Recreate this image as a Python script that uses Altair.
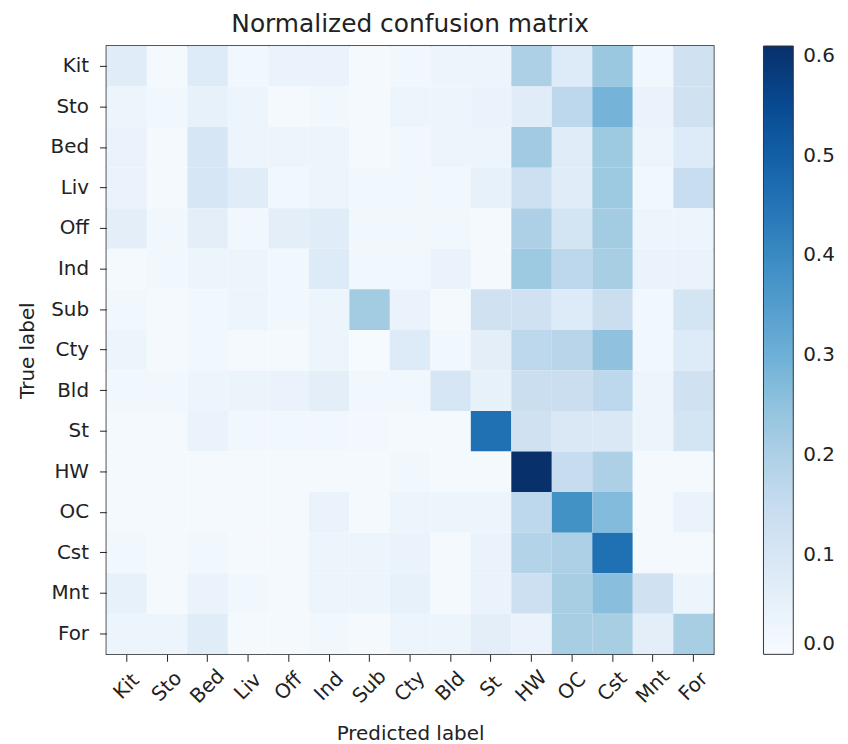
import altair as alt
import pandas as pd

classes = ["Kit", "Sto", "Bed", "Liv", "Off", "Ind", "Sub", "Cty", "Bld", "St", "HW", "OC", "Cst", "Mnt", "For"]

row_kit = [0.07, 0.01, 0.08, 0.02, 0.04, 0.04, 0.01, 0.02, 0.03, 0.03, 0.20, 0.08, 0.235, 0.02, 0.12]
row_sto = [0.03, 0.02, 0.05, 0.03, 0.01, 0.02, 0.01, 0.03, 0.03, 0.04, 0.07, 0.17, 0.29, 0.04, 0.12]
row_bed = [0.04, 0.01, 0.10, 0.03, 0.03, 0.03, 0.01, 0.02, 0.03, 0.03, 0.225, 0.07, 0.23, 0.03, 0.08]
row_liv = [0.04, 0.01, 0.10, 0.07, 0.02, 0.03, 0.02, 0.02, 0.02, 0.05, 0.13, 0.07, 0.23, 0.02, 0.145]
row_off = [0.06, 0.02, 0.06, 0.02, 0.06, 0.07, 0.02, 0.02, 0.02, 0.01, 0.20, 0.11, 0.22, 0.03, 0.03]
row_ind = [0.01, 0.02, 0.03, 0.03, 0.02, 0.08, 0.02, 0.02, 0.04, 0.01, 0.23, 0.17, 0.21, 0.04, 0.04]
row_sub = [0.02, 0.01, 0.02, 0.03, 0.02, 0.03, 0.22, 0.04, 0.01, 0.12, 0.12, 0.08, 0.14, 0.02, 0.11]
row_cty = [0.03, 0.01, 0.02, 0.01, 0.01, 0.03, 0.005, 0.08, 0.02, 0.06, 0.17, 0.18, 0.25, 0.02, 0.08]
row_bld = [0.02, 0.02, 0.03, 0.035, 0.04, 0.06, 0.02, 0.02, 0.10, 0.05, 0.14, 0.14, 0.17, 0.03, 0.12]
row_st = [0.01, 0.01, 0.04, 0.02, 0.02, 0.02, 0.015, 0.01, 0.01, 0.46, 0.12, 0.09, 0.09, 0.03, 0.11]
row_hw = [0.01, 0.01, 0.01, 0.01, 0.01, 0.01, 0.01, 0.02, 0.01, 0.01, 0.61, 0.15, 0.20, 0.01, 0.01]
row_oc = [0.01, 0.01, 0.01, 0.01, 0.01, 0.04, 0.01, 0.03, 0.03, 0.03, 0.17, 0.38, 0.27, 0.01, 0.04]
row_cst = [0.02, 0.01, 0.02, 0.01, 0.01, 0.03, 0.03, 0.04, 0.01, 0.04, 0.19, 0.20, 0.46, 0.01, 0.01]
row_mnt = [0.05, 0.01, 0.04, 0.02, 0.01, 0.03, 0.03, 0.05, 0.01, 0.04, 0.13, 0.21, 0.26, 0.12, 0.03]
row_for = [0.03, 0.03, 0.07, 0.01, 0.01, 0.02, 0.01, 0.03, 0.03, 0.06, 0.04, 0.21, 0.21, 0.06, 0.21]

rows = [row_kit, row_sto, row_bed, row_liv, row_off, row_ind, row_sub, row_cty,
        row_bld, row_st, row_hw, row_oc, row_cst, row_mnt, row_for]

blues = ["#f7fbff", "#deebf7", "#c6dbef", "#9ecae1", "#6baed6",
         "#4292c6", "#2171b5", "#08519c", "#08306b"]
vmax = 0.61
legend_ticks = [0.0, 0.1, 0.2, 0.3, 0.4, 0.5, 0.6]

records = []
for t, r in zip(classes, rows):
    for p, v in zip(classes, r):
        records.append({"true": t, "pred": p, "value": v})
df = pd.DataFrame(records)

stops = [vmax * i / (len(blues) - 1) for i in range(len(blues))]

font = "DejaVu Sans"

chart = alt.Chart(df).mark_rect().encode(
    x=alt.X("pred:N", sort=classes, title="Predicted label",
            scale=alt.Scale(paddingInner=0, paddingOuter=0),
            axis=alt.Axis(labelAngle=-45, labelAlign="center", labelBaseline="middle",
                          labelPadding=25, titlePadding=17)),
    y=alt.Y("true:N", sort=classes, title="True label",
            scale=alt.Scale(paddingInner=0, paddingOuter=0),
            axis=alt.Axis(labelPadding=11, titlePadding=13)),
    color=alt.Color("value:Q", title=None,
                    scale=alt.Scale(domain=stops, range=blues, clamp=True, interpolate="rgb"),
                    legend=alt.Legend(type="gradient", direction="vertical",
                                      gradientLength=612, gradientThickness=30,
                                      gradientStrokeColor="#333", gradientStrokeWidth=1,
                                      values=legend_ticks, format=".1f",
                                      labelFontSize=20, labelFont=font, labelColor="#222",
                                      labelOffset=10, offset=50, padding=0)),
).properties(
    width=611, height=612,
    title=alt.TitleParams("Normalized confusion matrix", font=font, fontSize=25,
                          fontWeight="normal", color="#222", offset=9),
    padding={"left": 9, "top": 2, "right": 5, "bottom": 5},
).configure_view(
    stroke="#222", strokeWidth=1.5
).configure_axis(
    domain=False, grid=False, ticks=True, tickSize=7, tickColor="#222", tickWidth=1,
    labelFont=font, labelFontSize=20, labelColor="#222",
    titleFont=font, titleFontSize=20, titleFontWeight="normal", titleColor="#222"
)

chart.save("out.html", embed_options={"renderer": "svg", "actions": False})
